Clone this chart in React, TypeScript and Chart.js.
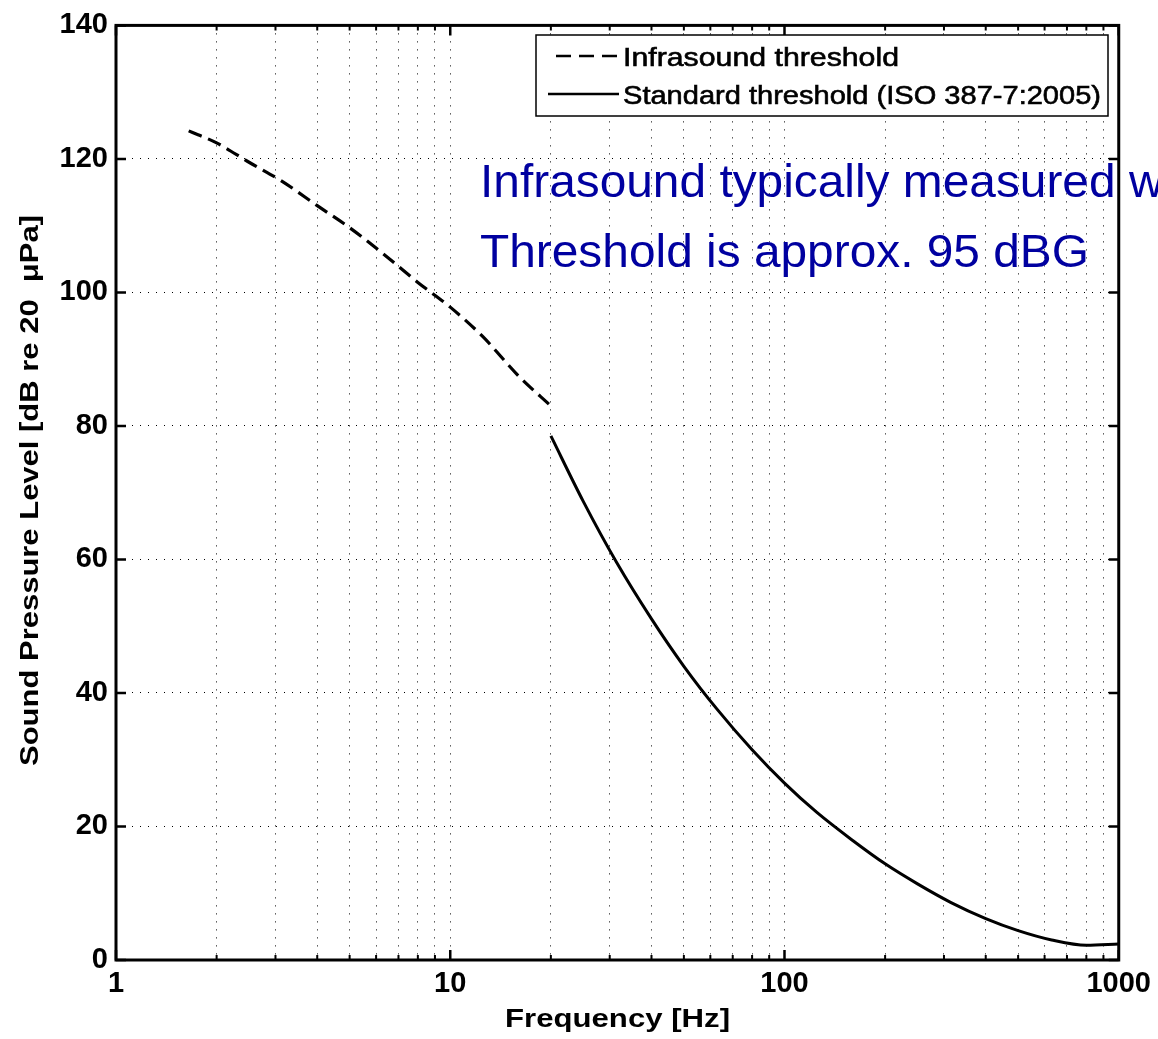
import React, { useEffect, useRef } from 'react';
import { Chart, registerables } from 'chart.js';

Chart.register(...registerables);

// ---- data ----
const infraFreq = [1.65, 2, 2.5, 3.15, 4, 5, 6.3, 8, 10, 12.5, 16, 20];
const infraSPL = [124.2, 122.4, 119.5, 116.6, 113.0, 109.7, 105.8, 101.5, 97.8, 93.4, 87.5, 83.0];
const isoFreq = [20, 25, 31.5, 40, 50, 63, 80, 100, 125, 160, 200, 250, 315, 400, 500, 630, 800, 1000];
const isoSPL = [78.5, 68.7, 59.5, 51.1, 44.0, 37.5, 31.5, 26.5, 22.1, 17.9, 14.4, 11.4, 8.6, 6.2, 4.4, 3.0, 2.2, 2.4];
const seriesLabels = ['Infrasound threshold', 'Standard threshold (ISO 387-7:2005)'];
const yTickValues = [0, 20, 40, 60, 80, 100, 120, 140];
const xDecades = [1, 10, 100, 1000];
const xTitle = 'Frequency [Hz]';
const yTitle = 'Sound Pressure Level [dB re 20  \u03bcPa]';
const noteLines = ['Infrasound typically measured w', 'Threshold is approx. 95 dBG'];

const FONT = '"Liberation Sans", Arial, Helvetica, sans-serif';

function buildXTicks(): number[] {
  const out: number[] = [];
  for (let d = 0; d < xDecades.length; d++) {
    const base = xDecades[d];
    if (d === xDecades.length - 1) {
      out.push(base);
    } else {
      for (let m = 1; m <= 9; m++) out.push(base * m);
    }
  }
  return out;
}
const xTickValues = buildXTicks();

function fitText(
  ctx: CanvasRenderingContext2D,
  text: string,
  x: number,
  y: number,
  targetW: number,
  strokeW = 0
) {
  const w = ctx.measureText(text).width;
  const sx = targetW / w;
  ctx.save();
  ctx.translate(x, y);
  ctx.scale(sx, 1);
  ctx.textAlign = 'left';
  ctx.fillText(text, 0, 0);
  if (strokeW > 0) {
    ctx.lineWidth = strokeW;
    ctx.strokeStyle = ctx.fillStyle as string;
    ctx.setLineDash([]);
    ctx.strokeText(text, 0, 0);
  }
  ctx.restore();
  return sx;
}

const decorPlugin = {
  id: 'matlabDecor',
  afterDatasetsDraw(chart: any) {
    const { ctx, chartArea: a, scales } = chart;
    const xs = scales.x;
    const ys = scales.y;
    ctx.save();
    ctx.strokeStyle = '#000';
    ctx.lineCap = 'butt';
    // inner ticks on y (left and right)
    ctx.lineWidth = 2.5;
    for (const v of yTickValues) {
      const py = ys.getPixelForValue(v);
      ctx.beginPath();
      ctx.moveTo(a.left, py);
      ctx.lineTo(a.left + 10, py);
      ctx.moveTo(a.right, py);
      ctx.lineTo(a.right - 10, py);
      ctx.stroke();
    }
    // inner ticks on x (bottom and top)
    for (const v of xTickValues) {
      const px = xs.getPixelForValue(v);
      const major = xDecades.includes(v);
      const len = major ? 10 : 5;
      ctx.lineWidth = major ? 2.5 : 2;
      ctx.beginPath();
      ctx.moveTo(px, a.bottom);
      ctx.lineTo(px, a.bottom - len);
      ctx.moveTo(px, a.top);
      ctx.lineTo(px, a.top + len);
      ctx.stroke();
    }
    // frame
    ctx.lineWidth = 3;
    ctx.strokeRect(a.left, a.top, a.right - a.left, a.bottom - a.top);

    // legend
    const lx = 536, ly = 35, lw = 572, lh = 81;
    ctx.fillStyle = '#fff';
    ctx.fillRect(lx, ly, lw, lh);
    ctx.lineWidth = 1.5;
    ctx.strokeStyle = '#000';
    ctx.strokeRect(lx, ly, lw, lh);
    const ds = chart.data.datasets;
    const rows = [56, 94];
    const textTargets = [276, 478];
    ctx.font = `26px ${FONT}`;
    ctx.textBaseline = 'alphabetic';
    for (let i = 0; i < ds.length; i++) {
      const ry = rows[i];
      const dashed = ds[i].borderDash && ds[i].borderDash.length;
      ctx.save();
      ctx.strokeStyle = ds[i].borderColor;
      ctx.lineWidth = 2.6;
      ctx.setLineDash(dashed ? [15, 8] : []);
      ctx.beginPath();
      ctx.moveTo(dashed ? 556 : 548, ry);
      ctx.lineTo(dashed ? 617 : 619, ry);
      ctx.stroke();
      ctx.restore();
      ctx.fillStyle = '#000';
      fitText(ctx, ds[i].label, 623, ry + 10, textTargets[i], 0.6);
    }

    // annotation text
    ctx.fillStyle = '#0000a0';
    ctx.font = `46px ${FONT}`;
    const w2 = ctx.measureText(noteLines[1]).width;
    const scaleX = 609 / w2;
    ctx.save();
    ctx.translate(480, 197);
    ctx.scale(scaleX, 1);
    ctx.fillText(noteLines[0], 0, 0);
    ctx.restore();
    ctx.save();
    ctx.translate(480, 267);
    ctx.scale(scaleX, 1);
    ctx.fillText(noteLines[1], 0, 0);
    ctx.restore();

    // axis titles
    ctx.fillStyle = '#000';
    ctx.font = `bold 26px ${FONT}`;
    fitText(ctx, xTitle, 505, 1027, 225);
    ctx.save();
    ctx.translate(37.5, 766);
    ctx.rotate(-Math.PI / 2);
    fitText(ctx, yTitle, 0, 0, 551);
    ctx.restore();

    ctx.restore();
  },
};

export default function App() {
  const ref = useRef<HTMLCanvasElement>(null);
  useEffect(() => {
    if (!ref.current) return;
    const chart = new Chart(ref.current, {
      type: 'line',
      data: {
        datasets: [
          {
            label: seriesLabels[0],
            data: infraFreq.map((f, i) => ({ x: f, y: infraSPL[i] })),
            borderColor: '#000',
            borderWidth: 3.2,
            borderDash: [14, 7],
            pointRadius: 0,
            fill: false,
            cubicInterpolationMode: 'monotone',
          },
          {
            label: seriesLabels[1],
            data: isoFreq.map((f, i) => ({ x: f, y: isoSPL[i] })),
            borderColor: '#000',
            borderWidth: 3,
            pointRadius: 0,
            fill: false,
            cubicInterpolationMode: 'monotone',
          },
        ],
      },
      options: {
        animation: false,
        responsive: false,
        devicePixelRatio: 1,
        layout: { padding: { left: 0, right: 39, top: 22, bottom: 0 } },
        plugins: { legend: { display: false }, tooltip: { enabled: false } },
        scales: {
          x: {
            type: 'logarithmic',
            position: 'bottom',
            min: 1,
            max: 1000,
            afterBuildTicks: (s: any) => {
              s.ticks = xTickValues.map((v) => ({ value: v, major: xDecades.includes(v) }));
            },
            afterFit: (s: any) => {
              s.height = 79;
            },
            ticks: {
              autoSkip: false,
              maxRotation: 0,
              minRotation: 0,
              padding: 7,
              color: '#000',
              font: { family: FONT, size: 29, weight: 'bold' },
              callback: (v: any) => (xDecades.includes(Number(v)) ? String(v) : ''),
            },
            grid: { color: '#000', lineWidth: 1, drawTicks: false },
            border: { display: false, dash: [1, 7] },
            title: { display: false },
          },
          y: {
            type: 'linear',
            min: 0,
            max: 140,
            afterBuildTicks: (s: any) => {
              s.ticks = yTickValues.map((v) => ({ value: v }));
            },
            afterFit: (s: any) => {
              s.width = 116;
            },
            ticks: {
              padding: 8,
              color: '#000',
              font: { family: FONT, size: 29, weight: 'bold' },
              callback: (v: any) => String(v),
            },
            grid: { color: '#000', lineWidth: 1, drawTicks: false },
            border: { display: false, dash: [1, 7] },
            title: { display: false },
          },
        },
      },
      plugins: [decorPlugin],
    } as any);
    return () => chart.destroy();
  }, []);
  return (
    <div style={{ position: 'absolute', left: 0, top: 0, width: 1158, height: 1039, background: '#fff' }}>
      <canvas ref={ref} width={1158} height={1039} style={{ display: 'block' }} />
    </div>
  );
}
